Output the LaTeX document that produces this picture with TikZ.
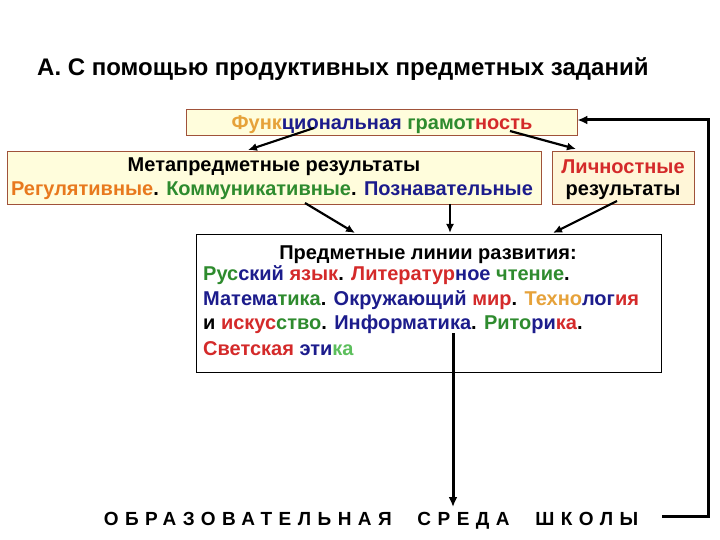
\documentclass[tikz,border=0pt]{standalone}
\usepackage{fontspec}
\setmainfont{Liberation Sans}
\usetikzlibrary{arrows.meta}
\definecolor{cgold}{HTML}{E6A23A}
\definecolor{cnavy}{HTML}{1C1C8C}
\definecolor{cgreen}{HTML}{2E8B2E}
\definecolor{cred}{HTML}{D42A2A}
\definecolor{corange}{HTML}{E8791E}
\definecolor{clgreen}{HTML}{5CBF5C}
\definecolor{boxfill}{HTML}{FFFDDC}
\definecolor{boxfill2}{HTML}{FFF6D8}
\definecolor{boxline}{HTML}{A0523A}
\begin{document}
\begin{tikzpicture}[x=1pt,y=-1pt,
  ybox/.style={draw=boxline,line width=0.8pt,fill=boxfill,inner sep=0pt},
  wbox/.style={draw=black,line width=1pt,fill=white,inner sep=0pt},
  txt/.style={font=\fontsize{20}{22}\selectfont\bfseries,inner sep=0pt},
  conn/.style={line width=2.2pt,-{Latex[length=9pt,width=8pt]}},
  connb/.style={line width=3pt,-{Latex[length=10pt,width=9pt]}}]
\useasboundingbox (0,0) rectangle (720,540);
\fill[white] (0,0) rectangle (720,540);
% title
\node[anchor=west,inner sep=0pt,font=\fontsize{24}{26}\selectfont\bfseries] (title) at (37,69) {А. С помощью продуктивных предметных заданий};
% boxes
\node[ybox,minimum width=391pt,minimum height=26pt] (top) at (381.5,122) {};
\node[txt] (toptxt) at (382,125) {\textcolor{cgold}{Функ}\textcolor{cnavy}{циональная} \textcolor{cgreen}{грамот}\textcolor{cred}{ность}};
\node[ybox,minimum width=534pt,minimum height=53pt] (meta) at (274,177.5) {};
\node[txt] (meta1) at (274,167) {Метапредметные результаты};
\node[txt] (meta2) at (272,191) {\textcolor{corange}{Регулятивные}. \textcolor{cgreen}{Коммуникативные}. \textcolor{cnavy}{Познавательные}};
\node[ybox,fill=boxfill2,minimum width=142pt,minimum height=53pt] (pers) at (623,177.5) {};
\node[txt] (pers1) at (623,167) {\textcolor{cred}{Личностные}};
\node[txt] (pers2) at (623,192) {результаты};
\node[wbox,minimum width=465pt,minimum height=138pt] (subj) at (428.5,303) {};
\node[txt] (subjh) at (428,255) {Предметные линии развития:};
\node[txt,anchor=west] (l1) at (203,275) {\textcolor{cgreen}{Рус}\textcolor{cnavy}{ский} \textcolor{cred}{язык}. \textcolor{cred}{Литератур}\textcolor{cnavy}{ное} \textcolor{cgreen}{чтение}.};
\node[txt,anchor=west] (l2) at (203,300) {\textcolor{cnavy}{Матема}\textcolor{cgreen}{тика}. \textcolor{cnavy}{Окружающий} \textcolor{cred}{мир}. \textcolor{cgold}{Техно}\textcolor{cnavy}{лог}\textcolor{cred}{ия}};
\node[txt,anchor=west] (l3) at (203,324) {и \textcolor{cred}{искус}\textcolor{cgreen}{ство}. \textcolor{cnavy}{Информатика}. \textcolor{cgreen}{Рито}\textcolor{cnavy}{ри}\textcolor{cred}{ка}.};
\node[txt,anchor=west] (l4) at (203,349) {\textcolor{cred}{Светская} \textcolor{cnavy}{эти}\textcolor{clgreen}{ка}};
% bottom text
\node[inner sep=0pt,font=\fontsize{19}{21}\selectfont\bfseries\addfontfeature{LetterSpace=34}] (env) at (371,521) {ОБРАЗОВАТЕЛЬНАЯ\hspace{14pt} СРЕДА\hspace{14pt} ШКОЛЫ};
% coordinates
\coordinate (a1s) at (314,128);
\coordinate (a1e) at (248,150);
\coordinate (a2s) at (510,131);
\coordinate (a2e) at (576,149);
\coordinate (a3s) at (305,203);
\coordinate (a3e) at (355,233);
\coordinate (a4s) at (450,204);
\coordinate (a4e) at (450,233);
\coordinate (a5s) at (617,201);
\coordinate (a5e) at (553,233);
\coordinate (a6s) at (453,333);
\coordinate (a6e) at (453,507);
\coordinate (r1) at (662,516);
\coordinate (r2) at (708,516);
\coordinate (r3) at (708,120);
\coordinate (r4) at (top.east |- r3);
% connectors
\draw[conn] (a1s) -- (a1e);
\draw[conn] (a2s) -- (a2e);
\draw[conn] (a3s) -- (a3e);
\draw[conn] (a4s) -- (a4e);
\draw[conn] (a5s) -- (a5e);
\draw[connb] (a6s) -- (a6e);
\draw[connb,line join=miter] (r1) -- (r2) -- (r3) -- (r4);
\end{tikzpicture}
\end{document}
